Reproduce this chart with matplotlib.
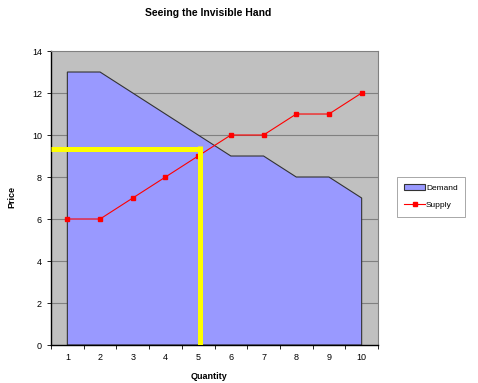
# Seeing the Invisible Hand - demand area vs supply line
import numpy as np
import matplotlib.pyplot as plt

plt.rcParams['font.family'] = ['Liberation Sans', 'DejaVu Sans']

quantity = [1, 2, 3, 4, 5, 6, 7, 8, 9, 10]
demand = [13, 13, 12, 11, 10, 9, 9, 8, 8, 7]
supply = [6, 6, 7, 8, 9, 10, 10, 11, 11, 12]
eq_quantity = 5.05
eq_price = 9.33

fig = plt.figure(figsize=(4.78, 3.83), dpi=100)
ax = fig.add_axes([0.1067, 0.0992, 0.6841, 0.7676])
ax.set_facecolor('#C0C0C0')

# horizontal gridlines
for y in range(2, 14, 2):
    ax.axhline(y, color='#808080', lw=0.8, zorder=1)

# demand area
xs = [quantity[0]] + quantity + [quantity[-1]]
ys = [0] + demand + [0]
ax.fill(xs, ys, facecolor='#9999FF', edgecolor='#333333', lw=0.8, zorder=2, label='Demand')

# supply line
ax.plot(quantity, supply, color='#FF0000', lw=0.8, marker='s', ms=3.5,
        zorder=4, label='Supply')

# yellow equilibrium lines
ax.plot([0.5, eq_quantity], [eq_price, eq_price], color='#FFFF00', lw=3.6,
        solid_capstyle='butt', zorder=5)
ax.plot([eq_quantity, eq_quantity], [0, eq_price + 0.15], color='#FFFF00', lw=3.6,
        solid_capstyle='butt', zorder=5)

ax.set_xlim(0.5, 10.5)
ax.set_ylim(0, 14)
ax.set_yticks(range(0, 15, 2))
ax.set_xticks(quantity)
ax.set_xticks(np.arange(0.5, 11, 1), minor=True)
ax.tick_params(axis='x', which='major', length=0, labelsize=6.5, pad=6)
ax.tick_params(axis='x', which='minor', length=3, width=0.6, direction='out')
ax.tick_params(axis='y', labelsize=6.5, length=3, width=0.6)

for side in ['left', 'bottom']:
    ax.spines[side].set_color('black')
    ax.spines[side].set_linewidth(1)
for side in ['top', 'right']:
    ax.spines[side].set_color('#808080')
    ax.spines[side].set_linewidth(0.8)

fig.text(0.437, 0.016, 'Quantity', ha='center', va='center',
         fontsize=6.5, fontweight='bold')
fig.text(0.025, 0.485, 'Price', ha='center', va='center', rotation=90,
         fontsize=6.5, fontweight='bold')
fig.text(0.435, 0.965, 'Seeing the Invisible Hand', ha='center', va='center',
         fontsize=7.5, fontweight='bold')

leg = fig.legend(loc='center', bbox_to_anchor=(0.902, 0.486), fontsize=6,
                 frameon=True, fancybox=False, edgecolor='#808080',
                 handlelength=2.5, borderpad=0.9, labelspacing=1.1,
                 handletextpad=0.1, borderaxespad=0)
leg.get_frame().set_linewidth(0.6)

plt.savefig('out.png', dpi=100)
